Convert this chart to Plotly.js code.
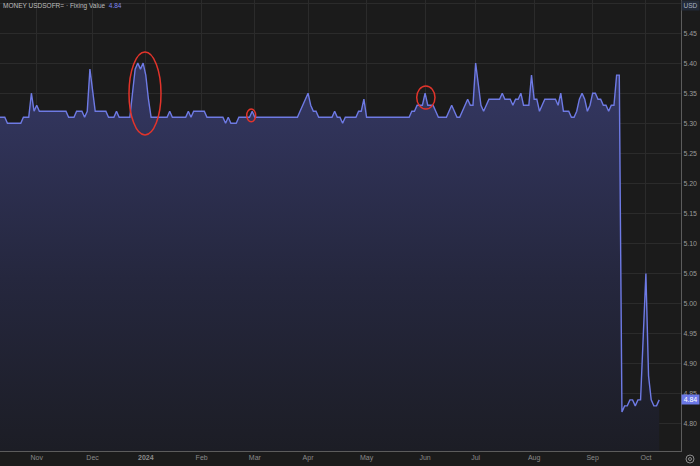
<!DOCTYPE html>
<html>
<head>
<meta charset="utf-8">
<script src="https://cdn.plot.ly/plotly-3.0.1.min.js"></script>
<style>
html,body{margin:0;padding:0;background:#1b1b1b;}
#chart{width:700px;height:466px;}
</style>
</head>
<body>
<div id="chart"></div>
<script>
// Monday of the first week; each row below = Mon..Fri fixing values (null = no fixing / holiday)
const firstMonday = '2023-10-09';
const weeklyValues = [
  [null, 5.31, 5.31, 5.31, 5.31],   // Oct 9
  [5.31, 5.30, 5.30, 5.30, 5.30],   // Oct 16
  [5.30, 5.30, 5.31, 5.31, 5.31],   // Oct 23
  [5.35, 5.32, 5.33, 5.32, 5.32],   // Oct 30
  [5.32, 5.32, 5.32, 5.32, 5.32],   // Nov 6
  [5.32, 5.32, 5.32, 5.32, 5.31],   // Nov 13
  [5.31, 5.31, 5.32, null, 5.32],   // Nov 20
  [5.32, 5.31, 5.32, 5.39, 5.35],   // Nov 27
  [5.32, 5.32, 5.32, 5.32, 5.32],   // Dec 4
  [5.31, 5.31, 5.31, 5.32, 5.31],   // Dec 11
  [5.31, 5.31, 5.31, 5.31, 5.35],   // Dec 18
  [null, 5.39, 5.40, 5.39, 5.40],   // Dec 25
  [null, 5.38, 5.34, 5.31, 5.31],   // Jan 1
  [5.31, 5.31, 5.31, 5.31, 5.31],   // Jan 8
  [null, 5.32, 5.31, 5.31, 5.31],   // Jan 15
  [5.31, 5.31, 5.31, 5.32, 5.31],   // Jan 22
  [5.32, 5.32, 5.32, 5.32, 5.32],   // Jan 29
  [5.31, 5.31, 5.31, 5.31, 5.31],   // Feb 5
  [5.31, 5.31, 5.30, 5.31, 5.30],   // Feb 12
  [null, 5.30, 5.30, 5.31, 5.31],   // Feb 19
  [5.31, 5.31, 5.31, 5.32, 5.31],   // Feb 26
  [5.31, 5.31, 5.31, 5.31, 5.31],   // Mar 4
  [5.31, 5.31, 5.31, 5.31, 5.31],   // Mar 11
  [5.31, 5.31, 5.31, 5.31, 5.31],   // Mar 18
  [5.31, 5.32, 5.33, 5.34, null],   // Mar 25
  [5.35, 5.33, 5.32, 5.32, 5.31],   // Apr 1
  [5.31, 5.31, 5.31, 5.31, 5.31],   // Apr 8
  [5.32, 5.31, 5.31, 5.30, 5.31],   // Apr 15
  [5.31, 5.31, 5.31, 5.31, 5.32],   // Apr 22
  [5.32, 5.34, 5.31, 5.31, 5.31],   // Apr 29
  [5.31, 5.31, 5.31, 5.31, 5.31],   // May 6
  [5.31, 5.31, 5.31, 5.31, 5.31],   // May 13
  [5.31, 5.31, 5.31, 5.31, 5.32],   // May 20
  [null, 5.32, 5.33, 5.33, 5.33],   // May 27
  [5.35, 5.33, 5.33, 5.33, 5.32],   // Jun 3
  [5.31, 5.31, 5.31, 5.31, 5.32],   // Jun 10
  [5.33, 5.32, null, 5.31, 5.31],   // Jun 17
  [5.32, 5.33, 5.34, 5.33, 5.33],   // Jun 24
  [5.40, 5.36, 5.33, null, 5.32],   // Jul 1
  [5.33, 5.34, 5.34, 5.34, 5.34],   // Jul 8
  [5.34, 5.35, 5.34, 5.34, 5.34],   // Jul 15
  [5.33, 5.34, 5.34, 5.35, 5.33],   // Jul 22
  [5.33, 5.33, 5.38, 5.34, 5.34],   // Jul 29
  [5.32, 5.33, 5.34, 5.34, 5.34],   // Aug 5
  [5.34, 5.34, 5.33, 5.35, 5.32],   // Aug 12
  [5.32, 5.32, 5.31, 5.31, 5.32],   // Aug 19
  [5.34, 5.35, 5.34, 5.32, 5.33],   // Aug 26
  [null, 5.35, 5.35, 5.34, 5.34],   // Sep 2
  [5.33, 5.33, 5.32, 5.33, 5.33],   // Sep 9
  [5.38, 5.38, 4.82, 4.83, 4.83],   // Sep 16
  [4.84, 4.84, 4.83, 4.84, 4.84],   // Sep 23
  [4.94, 5.05, 4.88, 4.84, 4.83],   // Sep 30
  [4.83, 4.84]                      // Oct 7
];
const holidays = ['2023-10-09','2023-11-23','2023-12-25','2024-01-01','2024-01-15','2024-02-19',
  '2024-03-29','2024-05-27','2024-06-19','2024-07-04','2024-09-02','2024-10-14'];
const tickDates = ['2023-11-01','2023-12-01','2024-01-02','2024-02-01','2024-03-01','2024-04-01',
  '2024-05-01','2024-06-03','2024-07-01','2024-08-01','2024-09-03','2024-10-01'];
const tickLabels = ['Nov','Dec','<b>2024</b>','Feb','Mar','Apr','May','Jun','Jul','Aug','Sep','Oct'];
const lastValue = 4.84;

const dates = [], values = [];
const base = Date.parse(firstMonday + 'T00:00:00Z');
weeklyValues.forEach(function(week, w){
  week.forEach(function(v, d){
    if (v === null) return;
    const t = new Date(base + (w*7 + d) * 86400000);
    dates.push(t.toISOString().slice(0,10));
    values.push(v);
  });
});

const W = 681, H = 451; // plot area in px
function px(x){ return x / W; }
function py(y){ return 1 - y / H; }
function ellipse(x0,x1,y0,y1){
  return {type:'circle', xref:'paper', yref:'paper', x0:px(x0), x1:px(x1), y0:py(y1), y1:py(y0),
          line:{color:'#e2342b', width:1.5}, layer:'above'};
}

const trace = {
  x: dates, y: values, type:'scatter', mode:'lines',
  line:{color:'#6e7ae4', width:1.4},
  fill:'tozeroy',
  fillgradient:{type:'vertical', start:4.755, stop:5.33,
    colorscale:[[0,'rgb(28,29,37)'],[0.5,'rgb(37,39,62)'],[1,'rgb(50,53,93)']]},
  hoverinfo:'skip'
};

const layout = {
  width:700, height:466,
  margin:{l:0, r:19, t:0, b:15, pad:0},
  paper_bgcolor:'#1b1b1b', plot_bgcolor:'#1b1b1b',
  font:{family:'Liberation Sans, Arial, sans-serif', color:'#9a9a9a', size:7},
  showlegend:false,
  xaxis:{
    type:'date',
    range:['2023-10-12 04:48','2024-10-21 04:48'],
    rangebreaks:[{bounds:['sat','mon']},{values:holidays}],
    tickmode:'array', tickvals:tickDates, ticktext:tickLabels,
    showgrid:true, gridcolor:'#2b2b2b', gridwidth:1,
    showline:true, linecolor:'#5c5c5c', linewidth:1,
    ticks:'', zeroline:false, automargin:false, fixedrange:true,
    tickfont:{size:7, color:'#8a8a8a'}
  },
  yaxis:{
    side:'right',
    range:[4.755, 5.505],
    tick0:4.8, dtick:0.05, tickformat:'.2f',
    showgrid:true, gridcolor:'#2b2b2b', gridwidth:1,
    showline:true, linecolor:'#5c5c5c', linewidth:1,
    ticks:'', zeroline:false, automargin:false, fixedrange:true,
    tickfont:{size:7, color:'#9a9a9a'}
  },
  shapes:[
    ellipse(129,161,52,135),
    ellipse(246.7,255.7,109,121.7),
    ellipse(416.7,435,86,109),
    {type:'circle', xref:'paper', yref:'paper', x0:px(686), x1:px(694), y0:py(463), y1:py(455),
     line:{color:'#8a8a8a', width:1}},
    {type:'circle', xref:'paper', yref:'paper', x0:px(688.5), x1:px(691.5), y0:py(460.5), y1:py(457.5),
     line:{color:'#8a8a8a', width:1}}
  ],
  annotations:[
    {xref:'paper', yref:'paper', x:px(1), y:py(5.5), xanchor:'left', yanchor:'middle', showarrow:false,
     text:'MONEY USDSOFR= · Fixing Value  <span style="color:#7d88f2">' + lastValue.toFixed(2) + '</span>',
     font:{size:6.5, color:'#bdbdbd'}},
    {xref:'paper', yref:'paper', x:1, y:1, xanchor:'left', yanchor:'top', showarrow:false,
     text:'USD', bgcolor:'#222a38', width:17, height:9, borderpad:0,
     font:{size:6.5, color:'#a9b1c2'}},
    {xref:'paper', yref:'y', x:1, y:lastValue, xanchor:'left', yanchor:'middle', showarrow:false,
     text:lastValue.toFixed(2), bgcolor:'#6b78e6', width:17, height:9, borderpad:0,
     font:{size:7, color:'#ffffff'}}
  ]
};

Plotly.newPlot('chart', [trace], layout, {displayModeBar:false, staticPlot:true});
</script>
</body>
</html>
